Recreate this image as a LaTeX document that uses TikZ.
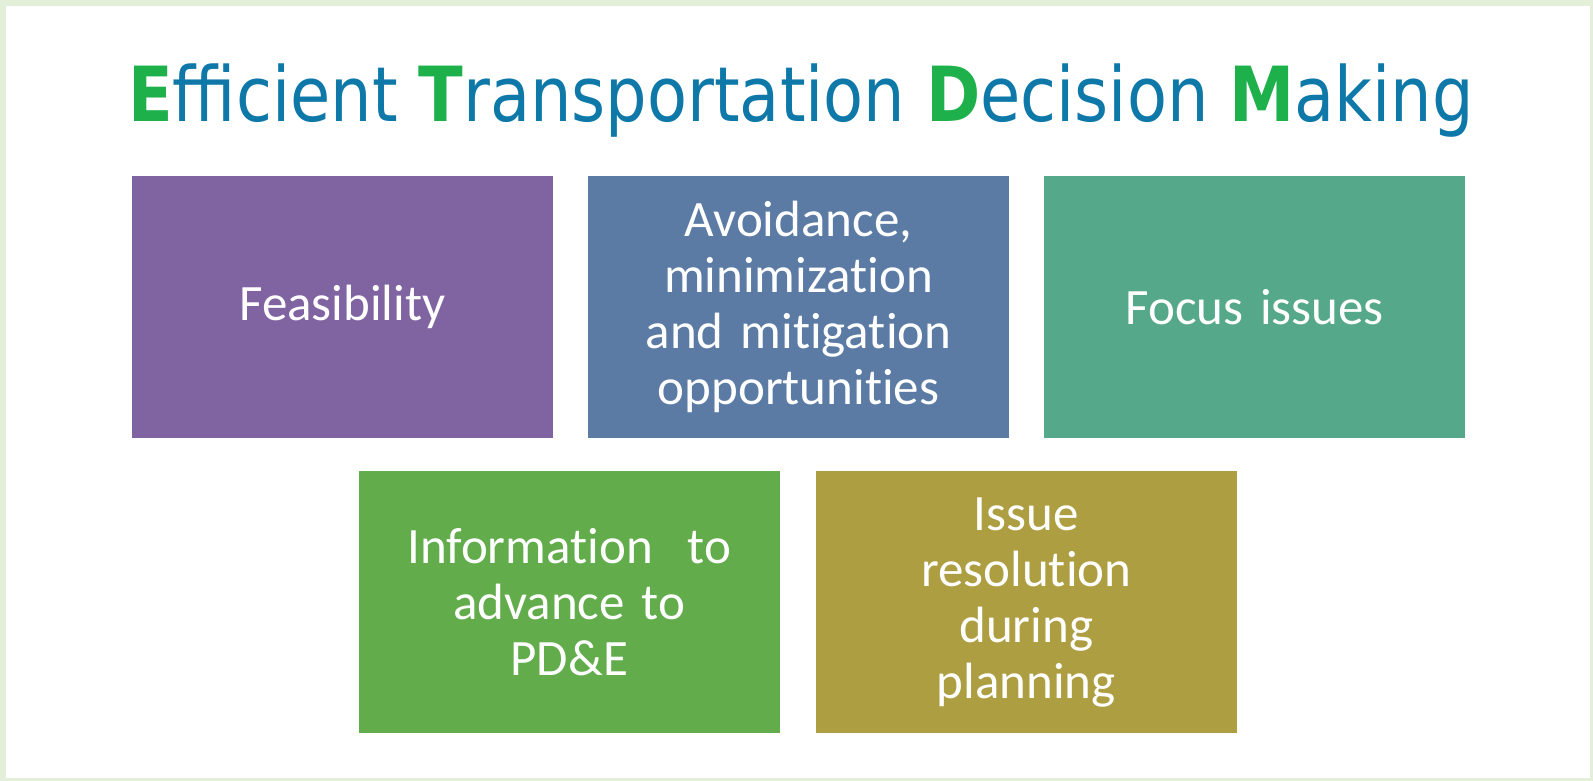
\documentclass[tikz,border=0pt]{standalone}
\usepackage{fontspec}
\setmainfont[Ligatures=NoCommon]{Carlito}
\newfontfamily\titlefont{DejaVu Sans}
\usetikzlibrary{positioning}
\definecolor{frameGreen}{HTML}{E3EFD9}
\definecolor{titleBlue}{HTML}{0E78A8}
\definecolor{titleGreen}{HTML}{1DB04B}
\definecolor{feasPurple}{HTML}{8064A2}
\definecolor{avoidBlue}{HTML}{5B7BA5}
\definecolor{focusTeal}{HTML}{55A889}
\definecolor{infoGreen}{HTML}{62AC4C}
\definecolor{issueOlive}{HTML}{AE9E42}
\tikzset{
  tile/.style={minimum width=421pt, minimum height=262pt, inner sep=0pt,
    text=white, align=center, text width=410pt,
    font=\fontsize{51}{56}\selectfont}
}
\begin{document}
\begin{tikzpicture}[x=1pt,y=-1pt]
  % Rahmen
  \fill[frameGreen] (0,0) rectangle (1593,781);
  \fill[white] (6,6) rectangle (1590,778);
  \useasboundingbox (0,0) rectangle (1593,781);
  % Titel
  \node[anchor=base, text=titleBlue, inner sep=0pt,
        font=\titlefont\fontsize{76}{80}\selectfont] (title) at (801,122)
    {\scalebox{0.861}[1]{\textcolor{titleGreen}{\bfseries E}fficient
     \textcolor{titleGreen}{\bfseries T}ransportation
     \textcolor{titleGreen}{\bfseries D}ecision
     \textcolor{titleGreen}{\bfseries M}aking}};
  % obere Reihe
  \node[tile, fill=feasPurple] (feas) at (342.5,306.7) {Feasibility};
  \node[tile, fill=avoidBlue, right=34.7pt of feas] (avoid)
    {Avoidance,\\minimization\\and mitigation\\opportunities};
  \node[tile, fill=focusTeal, right=34.7pt of avoid] (focus) {Focus issues};
  % untere Reihe
  \node[tile, fill=infoGreen] (info) at (569.2,602.2)
    {Information\hspace{0.35em} to\\advance to\\PD\&E};
  \node[tile, fill=issueOlive, right=35.7pt of info] (issue)
    {Issue\\resolution\\during\\planning};
\end{tikzpicture}
\end{document}
